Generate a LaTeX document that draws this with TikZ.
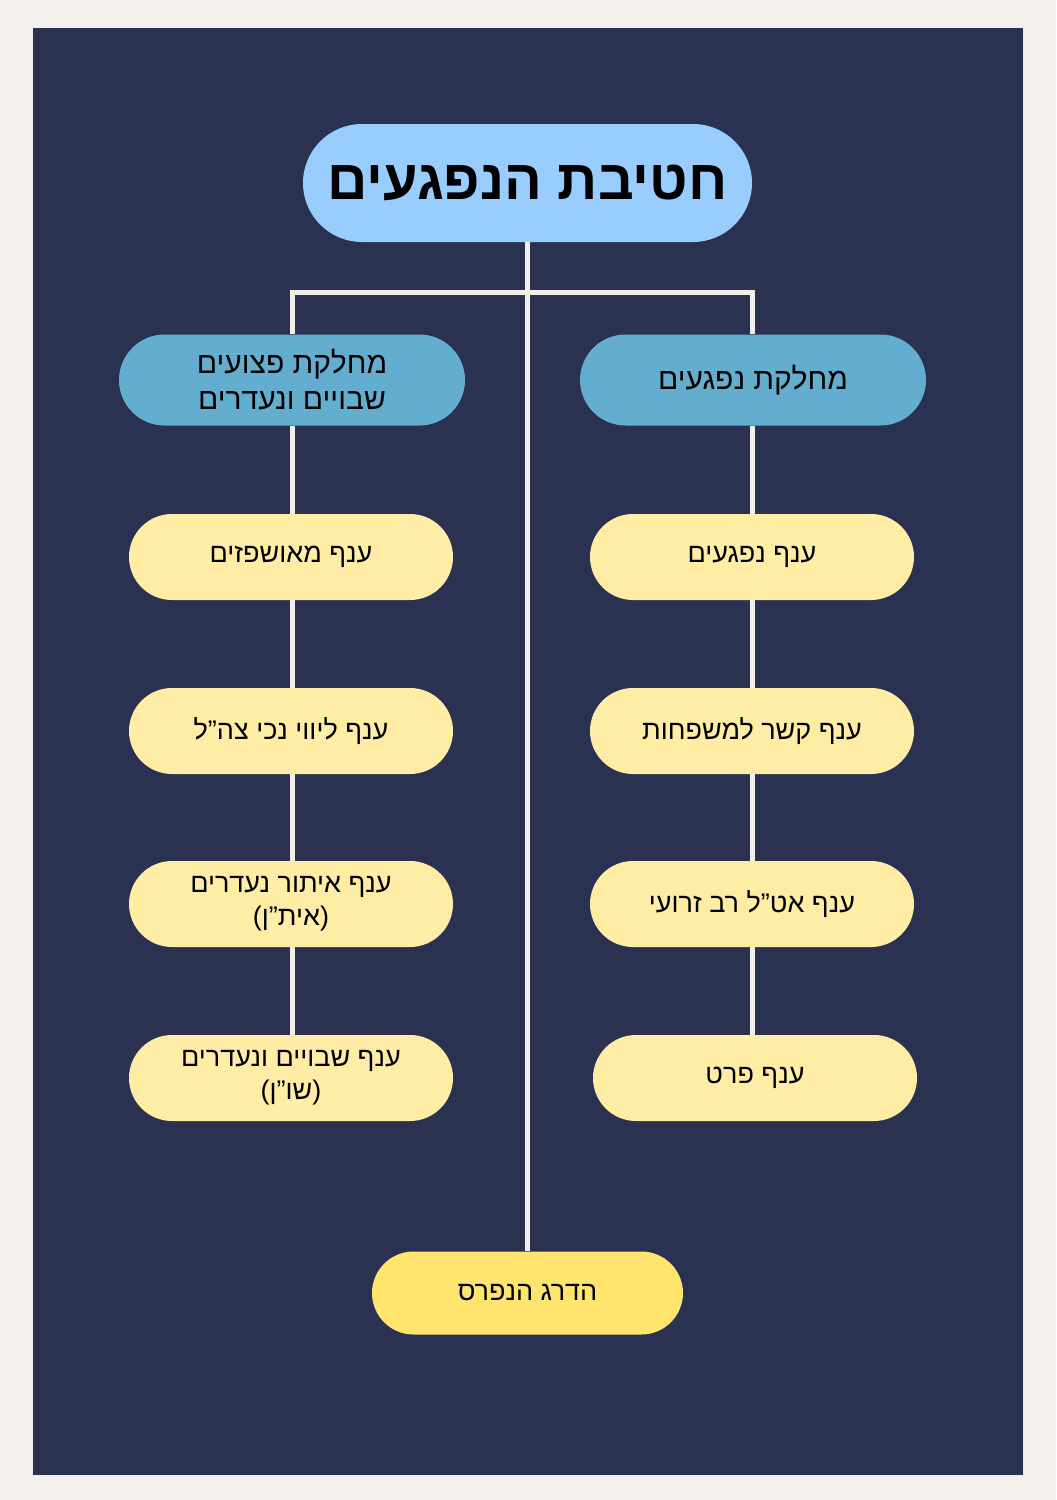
\documentclass[tikz,border=0pt]{standalone}
\usepackage{fontspec}
\newfontfamily\hebfont[Script=Hebrew]{Liberation Sans}
\TeXXeTstate=1
\definecolor{paper}{HTML}{F3F0EB}
\definecolor{navy}{HTML}{2B3151}
\definecolor{titleblue}{HTML}{99CCFF}
\definecolor{deptblue}{HTML}{63ADCF}
\definecolor{branchyel}{HTML}{FFEDA6}
\definecolor{bottomyel}{HTML}{FFE46E}
\newcommand{\heb}[1]{\beginR #1\endR}
\tikzset{
  x=0.5pt, y=-0.5pt,
  every node/.style={font=\hebfont, text=black, inner sep=0pt, align=center},
  titlebox/.style={fill=titleblue, minimum width=224.5pt, minimum height=59pt, rounded corners=29.5pt, font=\hebfont\bfseries\fontsize{28}{32}\selectfont},
  deptbox/.style={fill=deptblue, minimum width=173pt, minimum height=45.5pt, rounded corners=22.75pt, font=\hebfont\fontsize{15}{18}\selectfont},
  branchbox/.style={fill=branchyel, minimum width=162pt, minimum height=43pt, rounded corners=21.5pt, font=\hebfont\fontsize{13.5}{16.5}\selectfont},
  bottombox/.style={fill=bottomyel, minimum width=155.5pt, minimum height=41.5pt, rounded corners=20.75pt, font=\hebfont\fontsize{13.5}{16.5}\selectfont},
  link/.style={draw=paper, line width=2.5pt}
}
\begin{document}
\begin{tikzpicture}
\fill[paper] (0,0) rectangle (1056,1500);
\useasboundingbox (0,0) rectangle (1056,1500);
\fill[navy] (33,28) rectangle (1023,1475);

\node[titlebox] (title) at (527.5,183) {\heb{חטיבת הנפגעים}};
\node[deptbox] (deptL) at (292,380) {\heb{מחלקת פצועים}\\\heb{שבויים ונעדרים}};
\node[deptbox] (deptR) at (753,380) {\heb{מחלקת נפגעים}};

\node[branchbox] (bL1) at (291,557) {\heb{ענף מאושפזים}};
\node[branchbox] (bL2) at (291,731) {\heb{ענף ליווי נכי צה”ל}};
\node[branchbox] (bL3) at (291,904) {\heb{ענף איתור נעדרים}\\\heb{(אית”ן)}};
\node[branchbox] (bL4) at (291,1078) {\heb{ענף שבויים ונעדרים}\\\heb{(שו”ן)}};

\node[branchbox] (bR1) at (752,557) {\heb{ענף נפגעים}};
\node[branchbox] (bR2) at (752,731) {\heb{ענף קשר למשפחות}};
\node[branchbox] (bR3) at (752,904) {\heb{ענף אט”ל רב זרועי}};
\node[branchbox] (bR4) at (755,1078) {\heb{ענף פרט}};

\node[bottombox] (bot) at (527.5,1293) {\heb{הדרג הנפרס}};

\coordinate (jL) at (292,292);
\coordinate (jR) at (752,292);

\draw[link] (title.south) -- (bot.north);
\draw[link] ([xshift=-1.25pt]jL) -- ([xshift=1.25pt]jR);
\draw[link] (jL) -- (deptL.north);
\draw[link] (jR) -- (jR |- deptR.north);
\draw[link] (deptL.south) -- (deptL.south |- bL1.north);
\draw[link] (deptL.south |- bL1.south) -- (deptL.south |- bL2.north);
\draw[link] (deptL.south |- bL2.south) -- (deptL.south |- bL3.north);
\draw[link] (deptL.south |- bL3.south) -- (deptL.south |- bL4.north);
\draw[link] (jR |- deptR.south) -- (bR1.north);
\draw[link] (bR1.south) -- (bR2.north);
\draw[link] (bR2.south) -- (bR3.north);
\draw[link] (bR3.south) -- (bR3.south |- bR4.north);
\end{tikzpicture}
\end{document}
